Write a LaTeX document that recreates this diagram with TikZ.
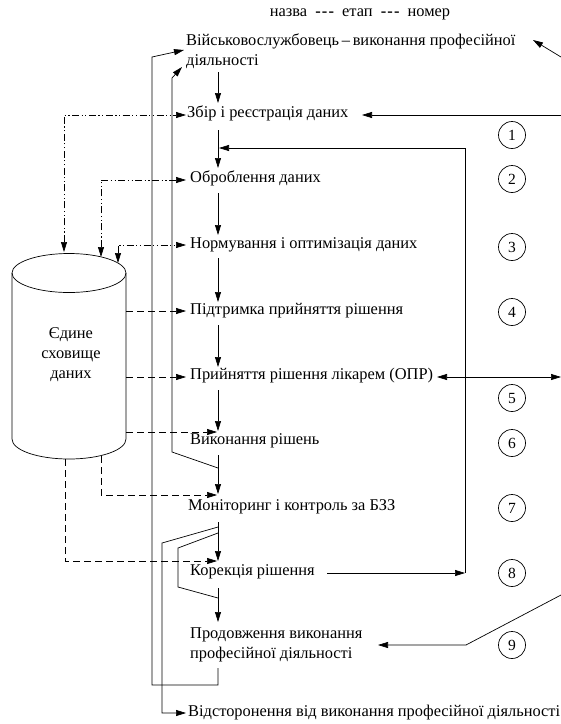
\documentclass[tikz,border=0pt]{standalone}
\usepackage{fontspec}
\setmainfont{Liberation Serif}
\usetikzlibrary{arrows.meta}
\begin{document}
\begin{tikzpicture}[x=1pt,y=-1pt,
  txt/.style={font=\fontsize{16.4}{20}\selectfont, inner sep=0pt, anchor=mid west},
  ln/.style={line width=0.7pt},
  tip/.tip={Triangle[length=10pt,width=6pt]},
  arr/.style={ln,-tip},
  dbl/.style={ln,tip-tip},
  dsh/.style={dash pattern=on 7pt off 4pt},
  ddot/.style={dash pattern=on 7pt off 2.5pt on 1.2pt off 2.5pt on 1.2pt off 2.5pt},
  num/.style={circle, draw, line width=0.7pt, minimum size=27pt, inner sep=0pt, font=\fontsize{15.5}{15.5}\selectfont}]
\useasboundingbox (0,0) rectangle (561,724);

% title
\node[txt, anchor=mid] (title) at (360,14) {назва\hspace{4pt} \textbf{-\kern1.2pt-\kern1.2pt-}\hspace{4pt} етап\hspace{4pt} \textbf{-\kern1.2pt-\kern1.2pt-}\hspace{4pt} номер};

% texts
\node[txt, anchor=north west, align=left] (t0) at (186,33.5) {Військовослужбовець\,–\,виконання професійної\\діяльності};
\node[txt] (t1) at (187,115) {Збір і реєстрація даних};
\node[txt] (t2) at (190,180) {Оброблення даних};
\node[txt] (t3) at (190,246) {Нормування і оптимізація даних};
\node[txt] (t4) at (190,312) {Підтримка прийняття рішення};
\node[txt] (t5) at (190,377) {Прийняття рішення лікарем (ОПР)};
\node[txt] (t6) at (190,442) {Виконання рішень};
\node[txt] (t7) at (188,508) {Моніторинг і контроль за БЗЗ};
\node[txt] (t8) at (190,573) {Корекція рішення};
\node[txt, anchor=north west, align=left] (t9) at (190,628) {Продовження виконання\\професійної діяльності};
\node[txt] (t10) at (188,714) {Відсторонення від виконання професійної діяльності};

% cylinder
\draw[ln] (12,273) -- (12,439) arc[start angle=180, end angle=360, x radius=57pt, y radius=20pt] -- (126,273);
\draw[ln] (69,273) ellipse [x radius=57pt, y radius=19.5pt];
\node[font=\fontsize{16.4}{20}\selectfont, align=center, inner sep=0pt] (db) at (71,355) {Єдине\\сховище\\даних};

% numbers
\foreach \n/\yy in {1/135,2/179,3/247,4/312,5/398,6/443,7/508,8/573,9/645}
  \node[num] (n\n) at (512,\yy) {\n};

% spine
\draw[arr] (218,72) -- (218,103);
\draw[arr] (218,130) -- (218,168);
\draw[arr] (218,193) -- (218,235);
\draw[arr] (218,258) -- (218,302);
\draw[arr] (218,325) -- (218,367);
\draw[arr] (218,390) -- (218,431);
\draw[arr] (218,455) -- (218,494);
\draw[arr] (218,522) -- (218,561);
\draw[arr] (218,588) -- (218,622);

% return / bypass lines
\draw[arr] (218,668) -- (218,685) -- (152,685) -- (152,57) -- (184,50);
\draw[arr] (218,468) -- (172,452) -- (172,78) -- (182,67);
\draw[arr] (218,527) -- (162,543) -- (162,713) -- (186,713);
\draw[ln] (218,533) -- (178,548) -- (178,587) -- (218,598);

% right side
\draw[arr] (561,115) -- (362,115);
\draw[arr] (327,573) -- (465,573);
\draw[arr] (465,573) -- (465,148) -- (219,148);
\draw[dbl] (437,377) -- (561,377);
\draw[arr] (561,57) -- (533,40);
\draw[arr] (561,595) -- (466,645) -- (378,645);

% dash-dot links
\draw[dbl, ddot] (64,252) -- (64,115) -- (186,115);
\draw[dbl, ddot] (101,257) -- (101,180) -- (186,180);
\draw[dbl, ddot] (118,263) -- (118,245) -- (186,245);

% dashed links
\draw[arr, dsh] (126,311) -- (186,311);
\draw[arr, dsh] (126,377) -- (186,377);
\draw[arr, dsh] (126,432) -- (217,432);
\draw[arr, dsh] (101,456) -- (101,495) -- (217,495);
\draw[arr, dsh] (65,459) -- (65,561) -- (217,561);
\end{tikzpicture}
\end{document}
